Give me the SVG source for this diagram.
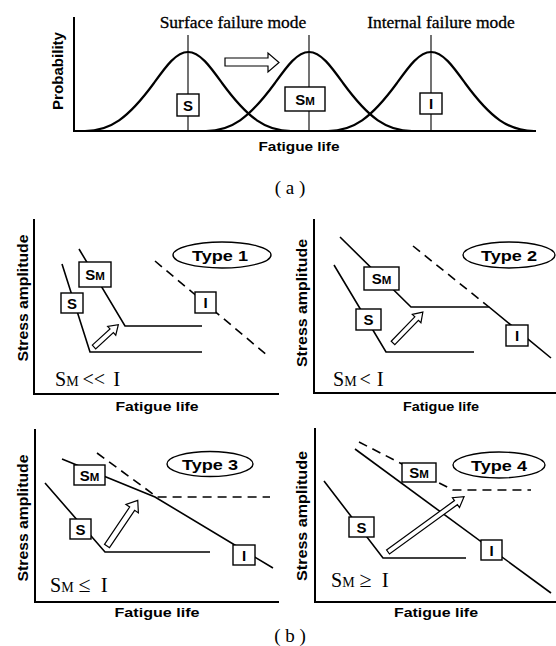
<svg xmlns="http://www.w3.org/2000/svg" width="556" height="646" viewBox="0 0 556 646">
<style>
.ax{stroke:#000;stroke-width:2;fill:none}
.cv{stroke:#000;stroke-width:2.2;fill:none}
.vl{stroke:#000;stroke-width:1.1;fill:none}
.ln{stroke:#000;stroke-width:1.6;fill:none}
.dash{stroke-dasharray:9 6}
.box{fill:#fff;stroke:#000;stroke-width:1.4}
.arr{fill:#fff;stroke:#000;stroke-width:1.2;stroke-linejoin:miter}
.sans{font-family:"Liberation Sans",Arial,sans-serif;font-weight:bold;fill:#000}
.ser{font-family:"Liberation Serif","Times New Roman",serif;fill:#000}
</style>
<rect width="556" height="646" fill="#fff"/>

<!-- Panel (a) -->
<g id="panel-a">
  <g id="axes-a">
    <path class="ax" d="M74,17 V131 H536"/>
  </g>
  <g id="connectors-a">
    <path class="cv" d="M85,131 C110,131 128,118.5 154,83 C166,66.3 176.2,52 188,52 C199.8,52 210,66.3 222,83 C248,118.5 266,131 291,131"/>
    <path class="cv" d="M206,131 C231,131 249,118.5 275,83 C287,66.3 297.2,52 309,52 C320.8,52 331,66.3 343,83 C369,118.5 387,131 412,131"/>
    <path class="cv" d="M328,131 C353,131 371,118.5 397,83 C409,66.3 419.2,52 431,52 C442.8,52 453,66.3 465,83 C491,118.5 509,131 534,131"/>
    <path class="vl" d="M188,35 V131 M309,35 V131 M431,35 V131"/>
    <path class="arr" d="M225,58 H268 V53 L279,62.5 L268,72 V66 H225 Z"/>
  </g>
  <g id="a-S">
    <rect class="box" x="177" y="94" width="22" height="22"/>
    <text class="sans" x="188" y="110.5" font-size="15" text-anchor="middle">S</text>
  </g>
  <g id="a-SM">
    <rect class="box" x="285" y="87" width="40" height="24"/>
    <text class="sans" x="305" y="104.5" text-anchor="middle"><tspan font-size="15">S</tspan><tspan font-size="11.5">M</tspan></text>
  </g>
  <g id="a-I">
    <rect class="box" x="420" y="93" width="22" height="21"/>
    <text class="sans" x="431" y="108.5" font-size="15" text-anchor="middle">I</text>
  </g>
  <text class="ser" x="233" y="28" font-size="17.5" text-anchor="middle" stroke="#000" stroke-width="0.3">Surface failure mode</text>
  <text class="ser" x="441" y="28" font-size="17.5" text-anchor="middle" stroke="#000" stroke-width="0.3">Internal failure mode</text>
  <text class="sans" transform="translate(63,71) rotate(-90)" font-size="15" text-anchor="middle" textLength="78" lengthAdjust="spacingAndGlyphs">Probability</text>
  <text class="sans" x="299" y="151" font-size="13.5" text-anchor="middle" textLength="81" lengthAdjust="spacingAndGlyphs">Fatigue life</text>
  <text class="ser" x="290" y="194" font-size="19" text-anchor="middle">( a )</text>
</g>

<!-- Panel Type 1 -->
<g id="panel-1">
  <path class="ax" d="M34,219 V394 H279"/>
  <g id="connectors-1">
    <path class="ln" d="M62,264 L90,352 H202"/>
    <path class="ln" d="M79,249 L125,326 H202"/>
    <path class="ln dash" d="M155,261 L268,356"/>
    <path class="arr" transform="translate(94,347) rotate(-42.5)" d="M0,-2.5 H24 V-6 L33,0 L24,6 V2.5 H0 Z"/>
  </g>
  <g id="p1-S"><rect class="box" x="61" y="293" width="22" height="20"/><text class="sans" x="72" y="308.5" font-size="15" text-anchor="middle">S</text></g>
  <g id="p1-SM"><rect class="box" x="79" y="262" width="32" height="25"/><text class="sans" x="95" y="280" text-anchor="middle"><tspan font-size="15">S</tspan><tspan font-size="11.5">M</tspan></text></g>
  <g id="p1-I"><rect class="box" x="195" y="292" width="21" height="21"/><text class="sans" x="205.5" y="308" font-size="15" text-anchor="middle">I</text></g>
  <g id="p1-type"><ellipse class="box" cx="222" cy="255" rx="49" ry="13"/><text class="sans" x="220" y="261" font-size="15" text-anchor="middle" textLength="56" lengthAdjust="spacingAndGlyphs">Type 1</text></g>
  <text class="ser" x="55" y="386"><tspan font-size="20">S</tspan><tspan font-size="14">M</tspan><tspan font-size="20" dx="4">&lt;&lt;</tspan><tspan font-size="21" dx="8">I</tspan></text>
  <text class="sans" transform="translate(28,298) rotate(-90)" font-size="15.5" text-anchor="middle" textLength="127" lengthAdjust="spacingAndGlyphs">Stress amplitude</text>
  <text class="sans" x="157" y="411" font-size="13.5" text-anchor="middle" textLength="83" lengthAdjust="spacingAndGlyphs">Fatigue life</text>
</g>

<!-- Panel Type 2 -->
<g id="panel-2">
  <path class="ax" d="M314,219 V393 H556"/>
  <g id="connectors-2">
    <path class="ln" d="M334,265 L386,352 H474"/>
    <path class="ln" d="M340,237 L411,307 H489 L551,358"/>
    <path class="ln dash" d="M413,246 L489,307"/>
    <path class="arr" transform="translate(393,343) rotate(-46)" d="M0,-2.5 H34 V-6 L43,0 L34,6 V2.5 H0 Z"/>
  </g>
  <g id="p2-S"><rect class="box" x="356" y="309" width="25" height="21"/><text class="sans" x="368.5" y="325" font-size="15" text-anchor="middle">S</text></g>
  <g id="p2-SM"><rect class="box" x="364" y="267" width="35" height="23"/><text class="sans" x="381.5" y="284" text-anchor="middle"><tspan font-size="15">S</tspan><tspan font-size="11.5">M</tspan></text></g>
  <g id="p2-I"><rect class="box" x="506" y="325" width="22" height="21"/><text class="sans" x="517" y="341" font-size="15" text-anchor="middle">I</text></g>
  <g id="p2-type"><ellipse class="box" cx="509" cy="255" rx="46" ry="13"/><text class="sans" x="509" y="261" font-size="15" text-anchor="middle" textLength="56" lengthAdjust="spacingAndGlyphs">Type 2</text></g>
  <text class="ser" x="333" y="386"><tspan font-size="20">S</tspan><tspan font-size="14">M</tspan><tspan font-size="20" dx="3">&lt;</tspan><tspan font-size="21" dx="6">I</tspan></text>
  <text class="sans" transform="translate(307,303) rotate(-90)" font-size="15.5" text-anchor="middle" textLength="128" lengthAdjust="spacingAndGlyphs">Stress amplitude</text>
  <text class="sans" x="441" y="411" font-size="13.5" text-anchor="middle" textLength="76" lengthAdjust="spacingAndGlyphs">Fatigue life</text>
</g>

<!-- Panel Type 3 -->
<g id="panel-3">
  <path class="ax" d="M35,429 V602 H279"/>
  <g id="connectors-3">
    <path class="ln" d="M45,483 L105,552 H210"/>
    <path class="ln" d="M62,459 L155,497 L273,568"/>
    <path class="ln dash" d="M97,453 L157,497 H270"/>
    <path class="arr" transform="translate(107,546) rotate(-56)" d="M0,-3 H45 V-7.5 L55,0 L45,7.5 V3 H0 Z"/>
  </g>
  <g id="p3-S"><rect class="box" x="70" y="519" width="21" height="20"/><text class="sans" x="80.5" y="534.5" font-size="15" text-anchor="middle">S</text></g>
  <g id="p3-SM"><rect class="box" x="74" y="465" width="31" height="20"/><text class="sans" x="89.5" y="480.5" text-anchor="middle"><tspan font-size="15">S</tspan><tspan font-size="11.5">M</tspan></text></g>
  <g id="p3-I"><rect class="box" x="233" y="545" width="22" height="20"/><text class="sans" x="244" y="560.5" font-size="15" text-anchor="middle">I</text></g>
  <g id="p3-type"><ellipse class="box" cx="210" cy="464" rx="43" ry="12.5"/><text class="sans" x="210" y="470" font-size="15" text-anchor="middle" textLength="56" lengthAdjust="spacingAndGlyphs">Type 3</text></g>
  <text class="ser" x="50" y="592"><tspan font-size="20">S</tspan><tspan font-size="14">M</tspan><tspan font-size="22" dx="5">≤</tspan><tspan font-size="21" dx="10">I</tspan></text>
  <text class="sans" transform="translate(28,518) rotate(-90)" font-size="15.5" text-anchor="middle" textLength="127" lengthAdjust="spacingAndGlyphs">Stress amplitude</text>
  <text class="sans" x="157" y="617" font-size="13.5" text-anchor="middle" textLength="85" lengthAdjust="spacingAndGlyphs">Fatigue life</text>
</g>

<!-- Panel Type 4 -->
<g id="panel-4">
  <path class="ax" d="M315,428 V602 H556"/>
  <g id="connectors-4">
    <path class="ln" d="M324,481 L383,558 H466"/>
    <path class="ln" d="M355,449 L551,593"/>
    <path class="ln dash" d="M359,442 L453,490 H531"/>
    <path class="arr" transform="translate(388,552) rotate(-36)" d="M0,-2.5 H84 V-6 L94,0 L84,6 V2.5 H0 Z"/>
  </g>
  <g id="p4-S"><rect class="box" x="349" y="517" width="25" height="20"/><text class="sans" x="361.5" y="532.5" font-size="15" text-anchor="middle">S</text></g>
  <g id="p4-SM"><rect class="box" x="402" y="463" width="34" height="19"/><text class="sans" x="419" y="478" text-anchor="middle"><tspan font-size="15">S</tspan><tspan font-size="11.5">M</tspan></text></g>
  <g id="p4-I"><rect class="box" x="481" y="540" width="21" height="20"/><text class="sans" x="491.5" y="555.5" font-size="15" text-anchor="middle">I</text></g>
  <g id="p4-type"><ellipse class="box" cx="499" cy="465" rx="46" ry="13"/><text class="sans" x="499" y="471" font-size="15" text-anchor="middle" textLength="56" lengthAdjust="spacingAndGlyphs">Type 4</text></g>
  <text class="ser" x="331" y="587"><tspan font-size="20">S</tspan><tspan font-size="14">M</tspan><tspan font-size="22" dx="5">≥</tspan><tspan font-size="21" dx="10">I</tspan></text>
  <text class="sans" transform="translate(307,516) rotate(-90)" font-size="15.5" text-anchor="middle" textLength="130" lengthAdjust="spacingAndGlyphs">Stress amplitude</text>
  <text class="sans" x="436" y="617" font-size="13.5" text-anchor="middle" textLength="84" lengthAdjust="spacingAndGlyphs">Fatigue life</text>
</g>

<text class="ser" x="290" y="642" font-size="19" text-anchor="middle">( b )</text>
</svg>
